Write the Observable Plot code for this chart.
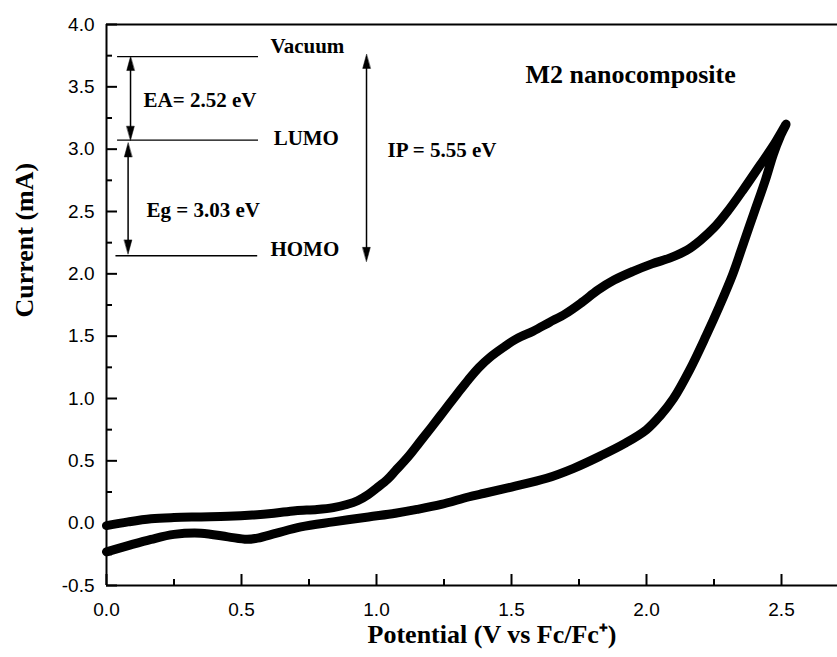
<!DOCTYPE html>
<html>
<head>
<meta charset="utf-8">
<script src="https://cdn.jsdelivr.net/npm/d3@7"></script>
<script src="https://cdn.jsdelivr.net/npm/@observablehq/plot@0.6"></script>
<style>
  html, body { margin: 0; padding: 0; background: #fff; }
  #chart svg { display: block; }
</style>
</head>
<body>
<div id="chart"></div>
<script>
// ---- data ----
const forwardV = [0, 0.08, 0.165, 0.25, 0.35, 0.45, 0.54, 0.62, 0.7, 0.78, 0.84, 0.89, 0.93, 0.97, 1.0, 1.04, 1.07, 1.12, 1.16, 1.2, 1.25, 1.3, 1.34, 1.38, 1.42, 1.47, 1.52, 1.58, 1.64, 1.7, 1.76, 1.82, 1.88, 1.95, 2.02, 2.09, 2.15, 2.2, 2.25, 2.3, 2.36, 2.42, 2.47, 2.517];
const forwardI = [-0.02, 0.01, 0.035, 0.045, 0.05, 0.055, 0.065, 0.08, 0.1, 0.11, 0.125, 0.15, 0.18, 0.23, 0.28, 0.35, 0.42, 0.54, 0.65, 0.76, 0.9, 1.04, 1.15, 1.25, 1.33, 1.41, 1.48, 1.54, 1.61, 1.68, 1.77, 1.87, 1.95, 2.02, 2.08, 2.13, 2.19, 2.27, 2.37, 2.5, 2.68, 2.87, 3.03, 3.2];
const reverseV = [2.517, 2.495, 2.47, 2.44, 2.4, 2.36, 2.32, 2.27, 2.22, 2.16, 2.1, 2.05, 2.0, 1.92, 1.83, 1.73, 1.63, 1.5, 1.4, 1.34, 1.24, 1.15, 1.07, 0.97, 0.84, 0.72, 0.63, 0.56, 0.52, 0.45, 0.35, 0.25, 0.165, 0.08, 0];
const reverseI = [3.2, 3.1, 2.96, 2.75, 2.5, 2.25, 2.0, 1.74, 1.5, 1.23, 1.0, 0.86, 0.75, 0.64, 0.54, 0.44, 0.36, 0.29, 0.24, 0.21, 0.15, 0.11, 0.08, 0.05, 0.01, -0.03, -0.08, -0.12, -0.13, -0.11, -0.08, -0.09, -0.13, -0.18, -0.23];

const xTicks = [0, 0.5, 1.0, 1.5, 2.0, 2.5];
const xMinor = [0.25, 0.75, 1.25, 1.75, 2.25];
const yTicks = [-0.5, 0, 0.5, 1.0, 1.5, 2.0, 2.5, 3.0, 3.5, 4.0];
const yMinor = [-0.25, 0.25, 0.75, 1.25, 1.75, 2.25, 2.75, 3.25, 3.75];

const xTitle = "Potential (V vs Fc/Fc\u207A)";
const yTitle = "Current (mA)";
const panelTitle = "M2 nanocomposite";

// energy-level diagram
const levelNames = ["Vacuum", "LUMO", "HOMO"];
const levelEnergy = [3.743, 3.072, 2.145];
const levelStart = [0.041, 0.041, 0.035];
const levelEnd = [0.563, 0.563, 0.56];
const gapLabels = ["EA= 2.52 eV", "Eg = 3.03 eV", "IP = 5.55 eV"];
const gapX = [0.089, 0.08, 0.963];
const gapTop = [3.743, 3.05, 3.76];
const gapBottom = [3.072, 2.16, 2.10];
const gapLabelX = [0.137, 0.148, 1.041];
const gapLabelY = [3.394, 2.508, 2.993];

// ---- build ----
const W = 837, H = 657, ML = 106, MR = 0, MT = 24, MB = 72;
const frameW = W - ML - MR, frameH = H - MT - MB;
const cv = [
  ...forwardV.map((v, i) => ({v, i: forwardI[i]})),
  ...reverseV.slice(1).map((v, k) => ({v, i: reverseI[k + 1]}))
];
const levels = levelNames.map((name, k) => ({name, e: levelEnergy[k], x1: levelStart[k], x2: levelEnd[k]}));
const gaps = gapLabels.map((label, k) => ({label, x: gapX[k], top: gapTop[k], bottom: gapBottom[k], lx: gapLabelX[k], ly: gapLabelY[k]}));
const heads = gaps.flatMap(g => [{x: g.x, y: g.top, rot: 0}, {x: g.x, y: g.bottom, rot: 180}]);

const serif = "'Liberation Serif', 'Times New Roman', Times, serif";
const sans = "'Liberation Sans', Arial, Helvetica, sans-serif";

const headShape = {
  draw(context, l) {
    context.moveTo(0, 0);
    context.lineTo(-3.8, l);
    context.lineTo(3.8, l);
    context.closePath();
  }
};

const plot = Plot.plot({
  width: W,
  height: H,
  marginLeft: ML,
  marginRight: MR,
  marginTop: MT,
  marginBottom: MB,
  style: {fontFamily: sans, background: "#fff", color: "#000"},
  x: {domain: [0, frameW / 270], label: null},
  y: {domain: [-0.5, 4.0], label: null},
  marks: [
    // frame lines
    Plot.ruleY([4.0], {stroke: "#000", strokeWidth: 2}),
    Plot.ruleY([-0.5], {stroke: "#000", strokeWidth: 2}),
    Plot.ruleX([0], {stroke: "#000", strokeWidth: 2}),
    // axes: labels
    Plot.axisX(xTicks, {anchor: "bottom", tickSize: 0, tickPadding: 17, tickFormat: d => d.toFixed(1), fontSize: 19, label: null}),
    Plot.axisY(yTicks, {anchor: "left", tickSize: 0, tickPadding: 12, tickFormat: d => d.toFixed(1), fontSize: 19, label: null}),
    // axes: inward ticks
    Plot.tickX(xTicks, {x: d => d, insetTop: frameH - 11, stroke: "#000", strokeWidth: 2}),
    Plot.tickX(xMinor, {x: d => d, insetTop: frameH - 6, stroke: "#000", strokeWidth: 2}),
    Plot.tickY(yTicks, {y: d => d, insetRight: frameW - 11, stroke: "#000", strokeWidth: 2}),
    Plot.tickY(yMinor, {y: d => d, insetRight: frameW - 6, stroke: "#000", strokeWidth: 2}),
    // CV curve
    Plot.line(cv, {x: "v", y: "i", stroke: "#000", strokeWidth: 9, curve: "catmull-rom", strokeLinejoin: "round", strokeLinecap: "round"}),
    // energy levels
    Plot.ruleY(levels, {y: "e", x1: "x1", x2: "x2", stroke: "#000", strokeWidth: 1.3}),
    Plot.text(levels, {x: d => 0.607 + (d.name === "LUMO" ? 0.012 : 0), y: d => d.e + (d.name === "Vacuum" ? 0.085 : d.name === "LUMO" ? 0.014 : 0.05), text: "name", textAnchor: "start", fontFamily: serif, fontWeight: "bold", fontSize: 21}),
    Plot.ruleX(gaps, {x: "x", y1: d => d.top - 0.08, y2: d => d.bottom + 0.08, stroke: "#000", strokeWidth: 1.5}),
    Plot.vector(heads, {x: "x", y: "y", rotate: "rot", length: 14, anchor: "start", shape: headShape, fill: "#000", stroke: "#000", strokeWidth: 0.5}),
    Plot.text(gaps, {x: "lx", y: "ly", text: "label", textAnchor: "start", fontFamily: serif, fontWeight: "bold", fontSize: 21}),
    // titles
    Plot.text([panelTitle], {x: () => 1.552, y: () => 3.599, text: d => d, textAnchor: "start", fontFamily: serif, fontWeight: "bold", fontSize: 26}),
    Plot.text([xTitle], {x: () => 1.428, frameAnchor: "bottom", dy: 57, text: d => d, textAnchor: "middle", fontFamily: serif, fontWeight: "bold", fontSize: 26}),
    Plot.text([yTitle], {y: () => 2.27, frameAnchor: "left", dx: -82, rotate: -90, text: d => d, textAnchor: "middle", fontFamily: serif, fontWeight: "bold", fontSize: 26})
  ]
});
document.getElementById("chart").appendChild(plot);
</script>
</body>
</html>
